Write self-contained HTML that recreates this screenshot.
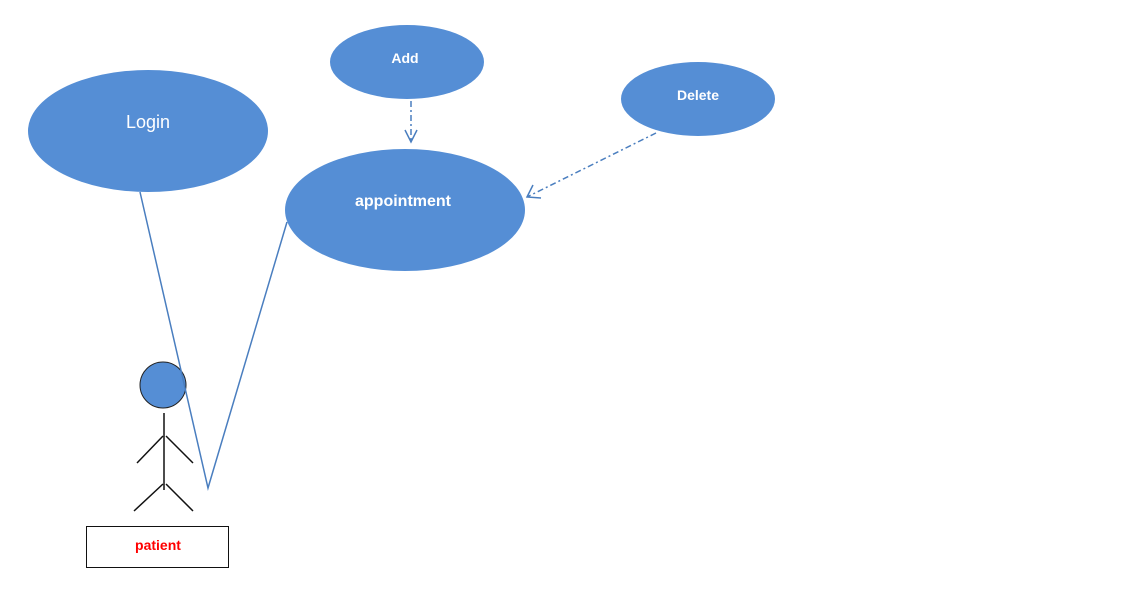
<!DOCTYPE html>
<html><head><meta charset="utf-8"><style>
html,body{margin:0;padding:0;background:#fff;}
svg{display:block}
text{font-family:"Liberation Sans","DejaVu Sans",sans-serif;}
</style></head><body>
<svg width="1132" height="608" viewBox="0 0 1132 608" xmlns="http://www.w3.org/2000/svg">
<rect width="1132" height="608" fill="#fff"/>
<ellipse cx="148" cy="131" rx="120" ry="61" fill="#558ed5"/>
<text x="148" y="128" fill="#fff" font-size="18" text-anchor="middle">Login</text>
<ellipse cx="407" cy="62" rx="77" ry="37" fill="#558ed5"/>
<text x="405" y="63" fill="#fff" font-size="14" font-weight="bold" text-anchor="middle">Add</text>
<ellipse cx="698" cy="99" rx="77" ry="37" fill="#558ed5"/>
<text x="698" y="100" fill="#fff" font-size="14" font-weight="bold" text-anchor="middle">Delete</text>
<ellipse cx="405" cy="210" rx="120" ry="61" fill="#558ed5"/>
<text x="403" y="206" fill="#fff" font-size="16" font-weight="bold" text-anchor="middle">appointment</text>
<line x1="411" y1="101" x2="411" y2="142" stroke="#4a7ebf" stroke-width="1.5" stroke-dasharray="6,3,2,3"/>
<polyline points="405,130 411,142 417,130" fill="none" stroke="#4a7ebf" stroke-width="1.5"/>
<line x1="656" y1="133" x2="527" y2="197" stroke="#4a7ebf" stroke-width="1.5" stroke-dasharray="6,3,2,3"/>
<polyline points="533,185 527,197 541,198" fill="none" stroke="#4a7ebf" stroke-width="1.5"/>
<circle cx="163" cy="385" r="23" fill="#558ed5" stroke="#222" stroke-width="1"/>
<g stroke="#111" stroke-width="1.5" fill="none">
<line x1="164" y1="413" x2="164" y2="490"/>
<line x1="163" y1="436" x2="137" y2="463"/>
<line x1="166" y1="436" x2="193" y2="463"/>
<line x1="163" y1="484" x2="134" y2="511"/>
<line x1="166" y1="484" x2="193" y2="511"/>
</g>
<polyline points="140,192 208,488 287,222" fill="none" stroke="#4a7ebf" stroke-width="1.5"/>
<rect x="86.5" y="526.5" width="142" height="41" fill="#fff" stroke="#111" stroke-width="1"/>
<text x="158" y="550" fill="#ff0000" font-size="14" font-weight="bold" text-anchor="middle">patient</text>
</svg>
</body></html>
